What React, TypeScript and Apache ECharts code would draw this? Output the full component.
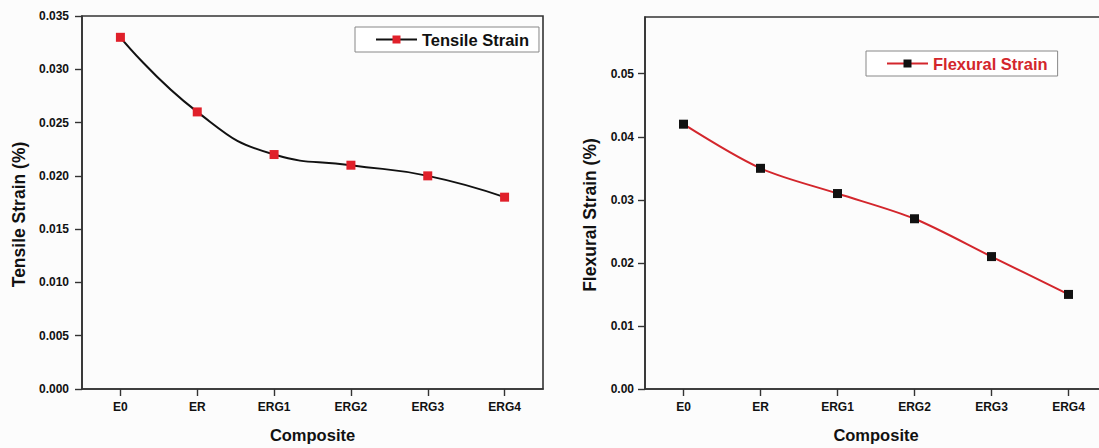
import React, { useEffect, useRef } from "react";
import * as echarts from "echarts";

const categories = ["E0", "ER", "ERG1", "ERG2", "ERG3", "ERG4"];
const tensileStrain = [0.033, 0.026, 0.022, 0.021, 0.02, 0.018];
const flexuralStrain = [0.042, 0.035, 0.031, 0.027, 0.021, 0.015];

const FONT = "'Liberation Sans', Arial, sans-serif";
const AXIS_COLOR = "#333333";
const RED = "#e0202a";
const LINE_RED = "#d3262c";
const CHART_W = 1112;

export default function App() {
  const ref = useRef<HTMLDivElement>(null);
  useEffect(() => {
    if (!ref.current) return;
    const chart = echarts.init(ref.current, undefined, { renderer: "svg" });
    const axisLine = { show: true, lineStyle: { color: AXIS_COLOR, width: 1.6 } };
    const axisTick = { show: true, length: 7, lineStyle: { color: AXIS_COLOR, width: 1.4 } };
    const labelStyle = { color: "#111", fontFamily: FONT, fontWeight: "bold" as const, fontSize: 12 };
    const nameStyle = { color: "#111", fontFamily: FONT, fontWeight: "bold" as const, fontSize: 16.5 };
    const yNameStyle = { ...nameStyle, fontSize: 17.5, padding: [0, 24, 0, 0] };
    const mkX = (gridIndex: number) => ({
      type: "category" as const,
      gridIndex,
      data: categories,
      boundaryGap: true,
      axisLine,
      axisTick: { ...axisTick, alignWithLabel: true },
      axisLabel: { ...labelStyle, margin: 12 },
      splitLine: { show: false },
      name: "Composite",
      nameLocation: "middle" as const,
      nameGap: 37,
      nameTextStyle: nameStyle,
    });
    chart.setOption({
      animation: false,
      backgroundColor: "#fcfcfc",
      grid: [
        { left: 82, top: 16, width: 461, bottom: 56, show: true, borderColor: AXIS_COLOR, borderWidth: 1.6, backgroundColor: "transparent" },
        { left: 645, top: 17, width: 462, bottom: 55, show: true, borderColor: AXIS_COLOR, borderWidth: 1.6, backgroundColor: "transparent" },
      ],
      xAxis: [mkX(0), mkX(1)],
      yAxis: [
        {
          type: "value",
          gridIndex: 0,
          min: 0,
          max: 0.035,
          interval: 0.005,
          axisLine,
          axisTick,
          splitLine: { show: false },
          axisLabel: { ...labelStyle, margin: 13, formatter: (v: number) => v.toFixed(3) },
          name: "Tensile Strain (%)",
          nameLocation: "middle",
          nameGap: 54,
          nameTextStyle: yNameStyle,
        },
        {
          type: "value",
          gridIndex: 1,
          min: 0,
          max: 0.059,
          interval: 0.01,
          axisLine,
          axisTick,
          splitLine: { show: false },
          axisLabel: { ...labelStyle, margin: 11, showMaxLabel: false, formatter: (v: number) => v.toFixed(2) },
          name: "Flexural Strain (%)",
          nameLocation: "middle",
          nameGap: 46,
          nameTextStyle: yNameStyle,
        },
      ],
      legend: [
        {
          data: ["Tensile Strain"],
          left: 355,
          top: 27,
          selectedMode: false,
          backgroundColor: "#ffffff",
          borderColor: "#888",
          borderWidth: 1,
          borderRadius: 0,
          padding: [4, 10, 4, 20],
          itemWidth: 41,
          itemHeight: 10,
          itemGap: 5,
          textStyle: { ...nameStyle, color: "#111" },
        },
        {
          data: ["Flexural Strain"],
          left: 866,
          top: 51,
          selectedMode: false,
          backgroundColor: "#ffffff",
          borderColor: "#888",
          borderWidth: 1,
          borderRadius: 0,
          padding: [4, 10, 4, 20],
          itemWidth: 41,
          itemHeight: 10,
          itemGap: 5,
          textStyle: { ...nameStyle, color: LINE_RED },
        },
      ],
      series: [
        {
          name: "Tensile Strain",
          type: "line",
          xAxisIndex: 0,
          yAxisIndex: 0,
          data: tensileStrain,
          smooth: 0.5,
          symbol: "rect",
          symbolSize: 9,
          itemStyle: { color: RED },
          lineStyle: { color: "#111", width: 2 },
          z: 3,
        },
        {
          name: "Flexural Strain",
          type: "line",
          xAxisIndex: 1,
          yAxisIndex: 1,
          data: flexuralStrain,
          smooth: 0.3,
          symbol: "rect",
          symbolSize: 9,
          itemStyle: { color: "#111" },
          lineStyle: { color: LINE_RED, width: 2 },
          z: 3,
        },
      ],
    });
    return () => chart.dispose();
  }, []);
  return (
    <div style={{ position: "fixed", left: 0, top: 0, width: 1099, height: 448, overflow: "hidden" }}>
      <div ref={ref} style={{ width: CHART_W, height: 448 }} />
    </div>
  );
}
